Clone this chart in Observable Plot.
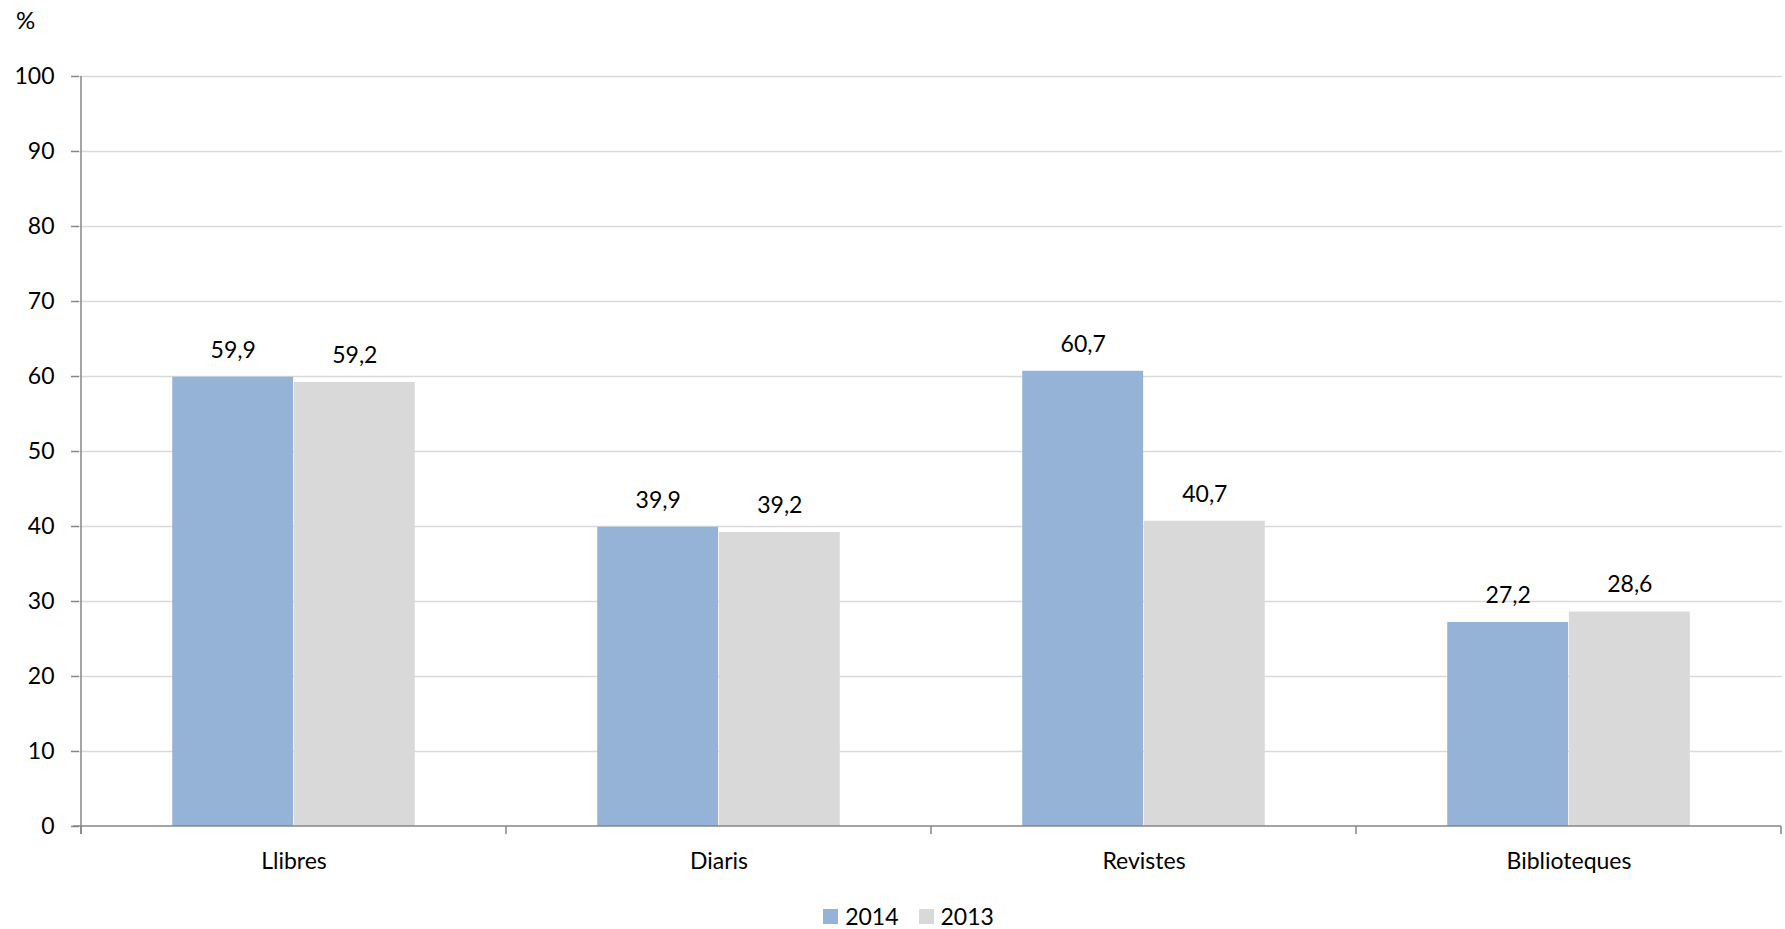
<!DOCTYPE html>
<html>
<head>
<meta charset="utf-8">
<script src="https://cdn.jsdelivr.net/npm/d3@7"></script>
<script src="https://cdn.jsdelivr.net/npm/@observablehq/plot@0.6"></script>
<style>
  html, body { margin: 0; background: #fff; font-family: Lato, "Open Sans", sans-serif; color: #000; overflow: hidden; }
  #unit { height: 40px; font-size: 24px; line-height: 40px; padding-left: 16px; }
  #legend { box-sizing: border-box; height: 34px; padding-top: 8px; display: flex; justify-content: center; align-items: center; padding-left: 32px; font-size: 23px; line-height: 26px; }
  #legend .item { display: flex; align-items: center; margin: 0 10px; }
  #legend .swatch { width: 15px; height: 15px; margin-right: 7px; }
  svg { display: block; }
</style>
</head>
<body>
<div id="unit">%</div>
<div id="chart"></div>
<div id="legend"></div>
<script>
// Share of people using each reading medium, 2014 vs 2013 (%)
const categories = ["Llibres", "Diaris", "Revistes", "Biblioteques"];
const years = ["2014", "2013"];
const values2014 = [59.9, 39.9, 60.7, 27.2];
const values2013 = [59.2, 39.2, 40.7, 28.6];
const yTicks = [0, 10, 20, 30, 40, 50, 60, 70, 80, 90, 100];
const colors = {"2014": "#95b3d7", "2013": "#d9d9d9"};

const rows2014 = categories.map((c, i) => ({category: c, year: "2014", value: values2014[i]}));
const rows2013 = categories.map((c, i) => ({category: c, year: "2013", value: values2013[i]}));

// Layout
const W = 1785, H = 855, ML = 79, MR = 3, MT = 36, MB = 69;
const band = (W - ML - MR) / categories.length;
const barW = band / 3.5;          // two bars take 2 of 3.5 slots
const outer = barW * 0.75;        // gap on each side of the pair

const fmt = v => v.toFixed(1).replace(".", ",");
const axisColor = "#868686";

// Axis lines and category boundary ticks, drawn from the plot's own scales
function axisLines(index, {x, y}) {
  const bw = typeof x.bandwidth === "function" ? x.bandwidth() : x(categories[1]) - x(categories[0]);
  const x0 = x(categories[0]);
  const xEnd = x(categories[categories.length - 1]) + bw;
  const y0 = y(0);
  const g = d3.create("svg:g")
    .attr("stroke", axisColor)
    .attr("stroke-width", 1.5)
    .attr("fill", "none");
  g.append("line").attr("x1", x0).attr("x2", x0).attr("y1", y(100)).attr("y2", y0 + 8);
  g.append("line").attr("x1", x0 - 8).attr("x2", xEnd).attr("y1", y0).attr("y2", y0);
  const bounds = categories.map(c => x(c)).concat([xEnd]);
  for (const b of bounds) {
    g.append("line").attr("x1", b).attr("x2", b).attr("y1", y0).attr("y2", y0 + 8);
  }
  return g.node();
}

const plot = Plot.plot({
  width: W,
  height: H,
  marginLeft: ML,
  marginRight: MR,
  marginTop: MT,
  marginBottom: MB,
  style: {fontFamily: "Lato, 'Open Sans', sans-serif", fontSize: "23px", color: "#000", background: "#fff"},
  x: {type: "band", domain: categories, padding: 0, label: null},
  y: {domain: [0, 100], label: null},
  marks: [
    Plot.gridY(yTicks.filter(t => t > 0), {stroke: "#d9d9d9", strokeOpacity: 1, strokeWidth: 1.5}),
    Plot.barY(rows2014, {x: "category", y: "value", fill: colors["2014"], insetLeft: outer, insetRight: outer + barW}),
    Plot.barY(rows2013, {x: "category", y: "value", fill: colors["2013"], insetLeft: outer + barW, insetRight: outer}),
    Plot.text(rows2014, {x: "category", y: "value", text: d => fmt(d.value), dx: -barW / 2, dy: -27, fill: "#000", fontSize: 23}),
    Plot.text(rows2013, {x: "category", y: "value", text: d => fmt(d.value), dx: barW / 2, dy: -27, fill: "#000", fontSize: 23}),
    Plot.axisY({ticks: yTicks, tickSize: 8, tickPadding: 17, stroke: axisColor, fill: "#000", strokeWidth: 1.5, label: null, fontSize: 23}),
    Plot.axisX({tickSize: 0, tickPadding: 26, fill: "#000", label: null, fontSize: 23}),
    axisLines
  ]
});
document.getElementById("chart").append(plot);

// Legend
const legend = d3.select("#legend");
for (const yr of years) {
  const item = legend.append("div").attr("class", "item");
  item.append("div").attr("class", "swatch").style("background", colors[yr]);
  item.append("span").text(yr);
}
</script>
</body>
</html>
